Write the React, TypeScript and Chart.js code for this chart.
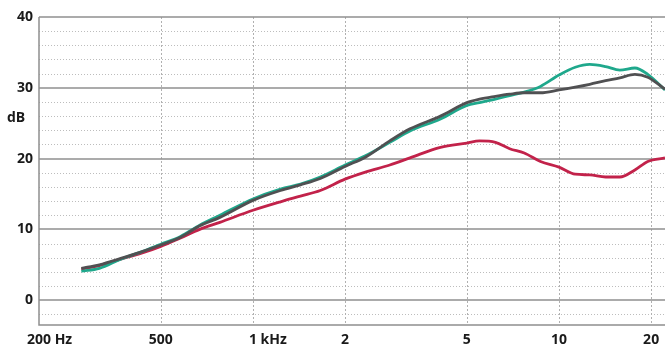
import { useEffect, useRef } from "react";
import { Chart, registerables } from "chart.js";

Chart.register(...registerables);

// Frequencies (Hz)
const freqs = [275, 315, 370, 430, 500, 580, 670, 780, 1000, 1230, 1430, 1660, 2000, 2330, 2800, 3260, 4100, 5000, 5500, 6200, 6900, 7700, 8700, 10000, 11300, 12600, 14200, 15800, 17700, 19500, 22200];
// Series values (dB)
const grayDb = [4.5, 5.0, 5.9, 6.8, 7.8, 8.9, 10.5, 11.7, 14.1, 15.5, 16.3, 17.2, 18.9, 20.2, 22.5, 24.2, 26.0, 27.9, 28.4, 28.8, 29.1, 29.3, 29.3, 29.7, 30.1, 30.5, 31.0, 31.4, 31.9, 31.5, 29.8];
const tealDb = [4.1, 4.5, 5.8, 6.8, 7.9, 9.0, 10.6, 12.0, 14.3, 15.7, 16.4, 17.4, 19.1, 20.4, 22.3, 23.9, 25.6, 27.5, 27.9, 28.4, 28.9, 29.4, 30.2, 31.8, 32.9, 33.3, 33.0, 32.5, 32.8, 31.9, 29.7];
const redDb = [4.4, 4.9, 5.8, 6.6, 7.6, 8.8, 10.0, 11.0, 12.7, 13.9, 14.7, 15.5, 17.1, 18.1, 19.1, 20.1, 21.6, 22.2, 22.5, 22.3, 21.4, 20.8, 19.6, 18.8, 17.8, 17.7, 17.4, 17.4, 18.4, 19.6, 20.1];

// Axis ticks
const xTicks = [200, 500, 1000, 2000, 5000, 10000, 20000];
const xTickNumbers = ["200", "500", "1", "2", "5", "10", "20"];
const xTickUnits = [" Hz", "", " kHz", "", "", "", ""];
const yMajor = [0, 10, 20, 30, 40];
const yMinor = [-2, 2, 4, 6, 8, 12, 14, 16, 18, 22, 24, 26, 28, 32, 34, 36, 38];
const yUnit = "dB";

const FONT = 'bold 14px "Open Sans", "Noto Sans", sans-serif';

const gridPlugin = {
  id: "customGrid",
  beforeDatasetsDraw(chart: any) {
    const { ctx, chartArea } = chart;
    const xs = chart.scales.x;
    const ys = chart.scales.y;
    ctx.save();
    // minor horizontal dotted
    ctx.strokeStyle = "#bdbdbd";
    ctx.lineWidth = 1;
    ctx.setLineDash([1, 2]);
    for (const v of yMinor) {
      const y = Math.round(ys.getPixelForValue(v)) + 0.5;
      ctx.beginPath();
      ctx.moveTo(chartArea.left, y);
      ctx.lineTo(chartArea.right, y);
      ctx.stroke();
    }
    // vertical dotted
    ctx.strokeStyle = "#b0b0b0";
    ctx.setLineDash([2, 2]);
    for (const v of xTicks) {
      if (v === 200) continue;
      const x = Math.round(xs.getPixelForValue(v)) + 0.5;
      ctx.beginPath();
      ctx.moveTo(x, chartArea.top);
      ctx.lineTo(x, chartArea.bottom);
      ctx.stroke();
    }
    // major horizontal solid
    ctx.setLineDash([]);
    ctx.strokeStyle = "#8f8f8f";
    ctx.lineWidth = 1.5;
    for (const v of yMajor) {
      const y = Math.round(ys.getPixelForValue(v));
      ctx.beginPath();
      ctx.moveTo(chartArea.left, y);
      ctx.lineTo(chartArea.right, y);
      ctx.stroke();
    }
    // axis lines
    ctx.beginPath();
    ctx.moveTo(chartArea.left, chartArea.top);
    ctx.lineTo(chartArea.left, chartArea.bottom);
    ctx.lineTo(chartArea.right, chartArea.bottom);
    ctx.stroke();
    ctx.restore();
  },
  afterDraw(chart: any) {
    const { ctx, chartArea } = chart;
    const xs = chart.scales.x;
    const ys = chart.scales.y;
    ctx.save();
    ctx.font = FONT;
    ctx.fillStyle = "#1a1a1a";
    ctx.textBaseline = "middle";
    ctx.textAlign = "right";
    for (const v of yMajor) {
      ctx.fillText(String(v), chartArea.left - 6, ys.getPixelForValue(v));
    }
    ctx.textAlign = "left";
    ctx.fillText(yUnit, 7, ys.getPixelForValue(25.7));
    const ly = chartArea.bottom + 15;
    xTicks.forEach((v, i) => {
      const x = xs.getPixelForValue(v);
      const num = xTickNumbers[i];
      const w = ctx.measureText(num).width;
      ctx.fillText(num + xTickUnits[i], x - w / 2, ly);
    });
    ctx.restore();
  },
};

export default function App() {
  const ref = useRef<HTMLCanvasElement>(null);
  useEffect(() => {
    if (!ref.current) return;
    const mk = (d: number[]) => freqs.map((f, i) => ({ x: f, y: d[i] }));
    const common = { borderWidth: 2.8, pointRadius: 0, cubicInterpolationMode: "monotone" as const };
    const chart = new Chart(ref.current, {
      type: "line",
      data: {
        datasets: [
          { label: "gray", data: mk(grayDb), borderColor: "#505052", order: 1, ...common },
          { label: "teal", data: mk(tealDb), borderColor: "#1fa88c", order: 2, ...common },
          { label: "red", data: mk(redDb), borderColor: "#c2224a", order: 3, ...common },
        ],
      },
      options: {
        animation: false,
        responsive: false,
        devicePixelRatio: 1,
        layout: { padding: { left: 39, top: 17, right: 0, bottom: 23 } },
        plugins: { legend: { display: false }, tooltip: { enabled: false } },
        scales: {
          x: { type: "logarithmic", min: 200, max: 22200, display: false },
          y: { type: "linear", min: -3.5, max: 40, display: false },
        },
      },
      plugins: [gridPlugin],
    });
    return () => chart.destroy();
  }, []);
  return (
    <div style={{ position: "fixed", left: 0, top: 0, width: 665, height: 348, background: "#fff" }}>
      <canvas ref={ref} width={665} height={348} />
    </div>
  );
}
